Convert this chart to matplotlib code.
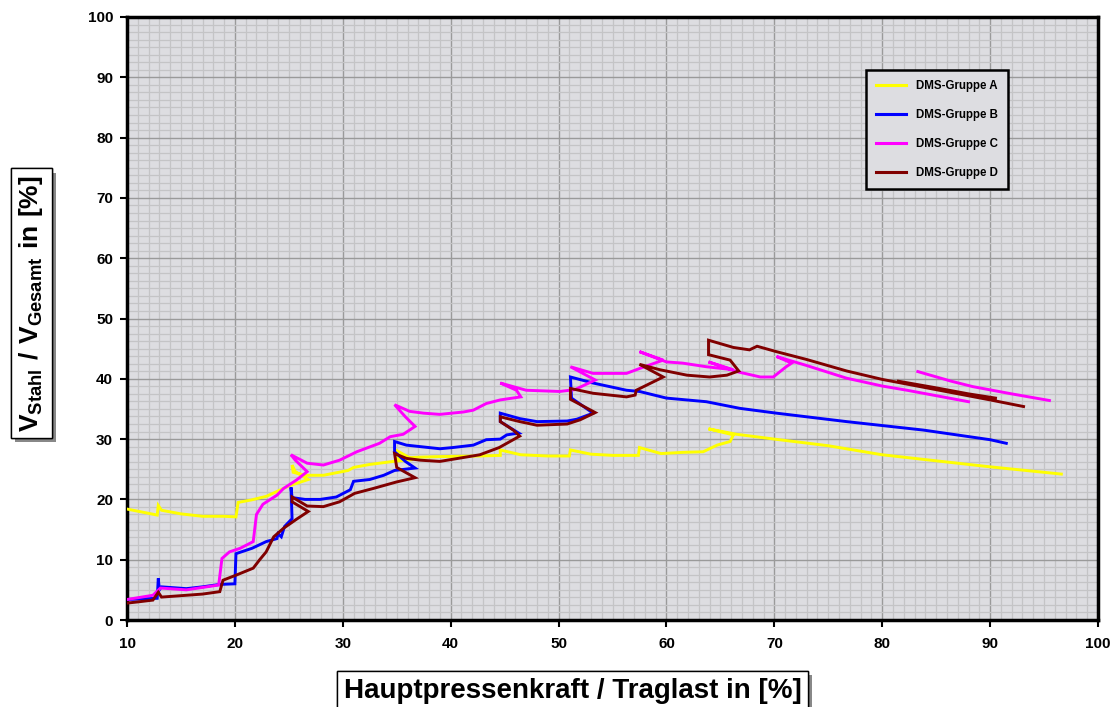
import numpy as np
import matplotlib
matplotlib.use("Agg")
import matplotlib.pyplot as plt
from matplotlib.ticker import MultipleLocator
import matplotlib.patheffects as pe

plt.rcParams['font.family'] = ['Liberation Sans', 'DejaVu Sans']
plt.rcParams['mathtext.fontset'] = 'custom'
plt.rcParams['mathtext.bf'] = 'Liberation Sans:bold'
plt.rcParams['mathtext.rm'] = 'Liberation Sans'

nan = np.nan

series_names = ["DMS-Gruppe A", "DMS-Gruppe B", "DMS-Gruppe C", "DMS-Gruppe D"]

a_x = [10, 12.8, 12.9, 13.2, 15, 17, 19, 20.1, 20.3, 21.5, 22.9, 24.0, 25.1, 26.8, 25.6, 25.3, 25.4, 26.5,
       28.2, 30.5, 31.0, 32.5, 34.7, 36.5, 34.9, 34.9, 37, 39, 42.7, 44.6, 44.6, 46.5, 49, 51.0, 51.1, 53,
       55, 57.4, 57.5, 59.5, 61.5, 63.4, 64.7, 65.9, 66.2, 63.9, 66.5, 70, 75, 80, 85, 90, 96.6]
a_y = [18.4, 17.4, 19.0, 18.2, 17.6, 17.2, 17.2, 17.1, 19.5, 19.9, 20.5, 21.4, 22.3, 23.3, 24.6, 25.7, 24.5, 24.0,
       24.0, 24.8, 25.3, 25.8, 26.3, 26.6, 28.2, 26.8, 27.0, 27.1, 27.2, 27.3, 28.2, 27.4, 27.2, 27.2, 28.2, 27.5,
       27.3, 27.3, 28.6, 27.6, 27.8, 27.9, 29.0, 29.6, 30.7, 31.7, 30.8, 30.0, 28.9, 27.4, 26.4, 25.4, 24.2]

b_x = [10, 11.5, 12.8, 12.9, 13.0, 13.2, 15.5, 17, 18.6, 20.0, 20.1, 21.6, 22.9, 23.9, 24.0, 24.3, 24.6, 25.3,
       25.2, 25.3, 26.5, 27.9, 29.4, 30.7, 31.0, 32.5, 33.8, 34.8, 36.7, 35.8, 34.8, 34.8, 35.9, 39, 40.2, 42.1,
       43.3, 44.6, 45.2, 46.3, 44.6, 44.6, 46.4, 48, 50.8, 51.7, 53.2, 51.2, 51.1, 53.2, 56.3, 57.5, 60, 63.7,
       66.8, 70.2, 76.7, 83.8, 90, 91.5]
b_y = [3.4, 3.5, 3.6, 6.9, 5.0, 5.5, 5.2, 5.5, 5.9, 6.0, 11.0, 11.9, 13.0, 13.5, 14.3, 13.8, 15.5, 16.8,
       22.0, 20.3, 20.0, 20.0, 20.4, 21.6, 23.0, 23.3, 24.0, 24.8, 25.2, 26.3, 27.9, 29.6, 29.0, 28.4, 28.6, 29.0,
       29.9, 30.0, 30.7, 31.0, 32.9, 34.3, 33.4, 32.9, 33.0, 33.3, 34.3, 36.8, 40.3, 39.3, 38.1, 37.9, 36.8, 36.2,
       35.1, 34.3, 32.9, 31.5, 29.9, 29.3]

c_x = [10, 12.4, 13.1, 15.5, 18.5, 18.8, 19.5, 20.5, 21.7, 22.0, 22.6, 23.9, 24.5, 25.7, 26.7, 25.6, 25.2, 26.7,
       28.2, 29.7, 31.3, 33.4, 34.4, 35.6, 36.7, 35.8, 34.8, 36.2, 37.5, 39, 41.2, 42.1, 43.3, 44.6, 46.5, 46.1,
       44.6, 47, 50.1, 51.5, 53.4, 51.1, 53.2, 56.3, 57.5, 59.7, 57.5, 60, 61.5, 63.7, 66.2, 63.9, 66.5, 68.7,
       69.9, 71.1, 71.6, 70.2, 73, 76.7, 80, 82.3, 85, 88, nan, 83.3, 86.4, 88.4, 92, 95.5]
c_y = [3.4, 4.1, 5.3, 5.0, 5.8, 10.2, 11.3, 11.9, 13.0, 17.5, 19.2, 20.7, 21.8, 23.2, 24.6, 26.5, 27.4, 26.0,
       25.7, 26.5, 27.9, 29.3, 30.4, 30.8, 32.1, 33.7, 35.7, 34.6, 34.3, 34.1, 34.5, 34.8, 35.9, 36.5, 37.0, 38.1,
       39.3, 38.1, 37.9, 38.2, 39.8, 42.0, 40.9, 40.9, 41.7, 43.1, 44.5, 42.8, 42.6, 42.0, 41.5, 42.8, 41.2, 40.3,
       40.3, 42.0, 42.6, 43.7, 42.2, 40.1, 38.8, 38.1, 37.2, 36.2, nan, 41.2, 39.6, 38.7, 37.5, 36.4]

d_x = [10, 11, 12.4, 12.9, 13.2, 15.5, 17, 18.6, 18.9, 20.2, 21.7, 22.3, 22.9, 23.6, 24.5, 25.7, 26.8, 25.3,
       25.3, 26.7, 28.2, 29.7, 31.1, 32.8, 35.0, 36.7, 35.0, 34.8, 35.9, 37.2, 39, 42.7, 44.5, 46.4, 45.8, 44.6,
       44.6, 46.4, 48, 50.8, 52, 53.4, 51.1, 51.1, 53.2, 56.3, 57.1, 57.2, 59.7, 57.5, 59.4, 61.9, 64.0, 65.6,
       66.7, 65.9, 63.9, 63.9, 66.2, 67.7, 68.4, 70.2, 73, 76.7, 80, 85, 90, 93.1, nan, 81.5, 85, 88, 90.5]
d_y = [2.8, 3.0, 3.3, 4.6, 3.8, 4.1, 4.3, 4.7, 6.6, 7.5, 8.6, 10.0, 11.3, 13.8, 15.2, 16.7, 18.0, 19.6,
       20.4, 18.9, 18.8, 19.6, 21.0, 21.8, 22.9, 23.6, 25.3, 27.6, 26.8, 26.5, 26.3, 27.4, 28.6, 30.5, 31.5, 32.9,
       33.7, 32.9, 32.3, 32.5, 33.2, 34.4, 36.6, 38.4, 37.6, 37.0, 37.3, 38.1, 40.3, 42.4, 41.5, 40.6, 40.3, 40.6,
       41.3, 43.1, 44.0, 46.4, 45.2, 44.8, 45.4, 44.5, 43.2, 41.3, 39.9, 38.2, 36.5, 35.4, nan, 39.6, 38.5, 37.5, 36.8]

colors = ["#FFFF00", "#0000FF", "#FF00FF", "#800000"]

x_ticks = list(range(10, 101, 10))
y_ticks = list(range(0, 101, 10))

fig = plt.figure(figsize=(11.16, 7.07), dpi=100)
ax = fig.add_axes([127 / 1116, 87 / 707, 971 / 1116, 603 / 707])
ax.set_facecolor("#DDDDE1")

for xs, ys, c, name in zip([a_x, b_x, c_x, d_x], [a_y, b_y, c_y, d_y], colors, series_names):
    ax.plot(xs, ys, color=c, lw=2.1, label=name, solid_joinstyle='miter', zorder=3)

ax.set_xlim(10, 100)
ax.set_ylim(0, 100)
ax.set_xticks(x_ticks)
ax.set_yticks(y_ticks)
ax.xaxis.set_minor_locator(MultipleLocator(1))
ax.yaxis.set_minor_locator(MultipleLocator(1.25))
ax.grid(which='minor', color='#C4C4C6', lw=0.9, zorder=0)
ax.grid(which='major', color='#9A9A9A', lw=1.0, zorder=1)
ax.set_axisbelow(True)
ax.tick_params(which='minor', length=0)
ax.tick_params(which='major', direction='out', length=5, width=1.5, labelsize=11, pad=5)
for lab in ax.get_xticklabels() + ax.get_yticklabels():
    lab.set_fontweight('bold')
ax.tick_params(axis='x', pad=7)
for s in ax.spines.values():
    s.set_linewidth(2.5)
    s.set_color('black')

leg = ax.legend(loc='upper left', bbox_to_anchor=(0.761, 0.912), frameon=True, fancybox=False,
                prop={'weight': 'bold', 'size': 8.3}, handlelength=2.6, labelspacing=1.45,
                borderpad=0.9, handletextpad=0.8, borderaxespad=0)
leg.get_frame().set_facecolor("#DDDDE1")
leg.get_frame().set_edgecolor('black')
leg.get_frame().set_linewidth(1.8)
leg.get_frame().set_alpha(1)
for line in leg.get_lines():
    line.set_linewidth(2.2)

shadow = [pe.withSimplePatchShadow(offset=(3, -3), shadow_rgbFace='#888888', alpha=1.0), pe.Normal()]

ylab = fig.text(0.028, 0.571,
                r'$\mathbf{V}_{\mathbf{Stahl}}\mathbf{\ /\ V}_{\mathbf{Gesamt}}\mathbf{\ in\ [\%]}$',
                rotation=90, ha='center', va='center', fontsize=19,
                bbox=dict(boxstyle='square,pad=0.25', fc='white', ec='black', lw=1.0))
ylab.get_bbox_patch().set_path_effects(shadow)

xlab = fig.text(0.513, 0.023, 'Hauptpressenkraft / Traglast in [%]', ha='center', va='center',
                fontsize=20, fontweight='bold',
                bbox=dict(boxstyle='square,pad=0.25', fc='white', ec='black', lw=1.0))
xlab.get_bbox_patch().set_path_effects(shadow)

fig.savefig('out.png', dpi=100, facecolor='white')
